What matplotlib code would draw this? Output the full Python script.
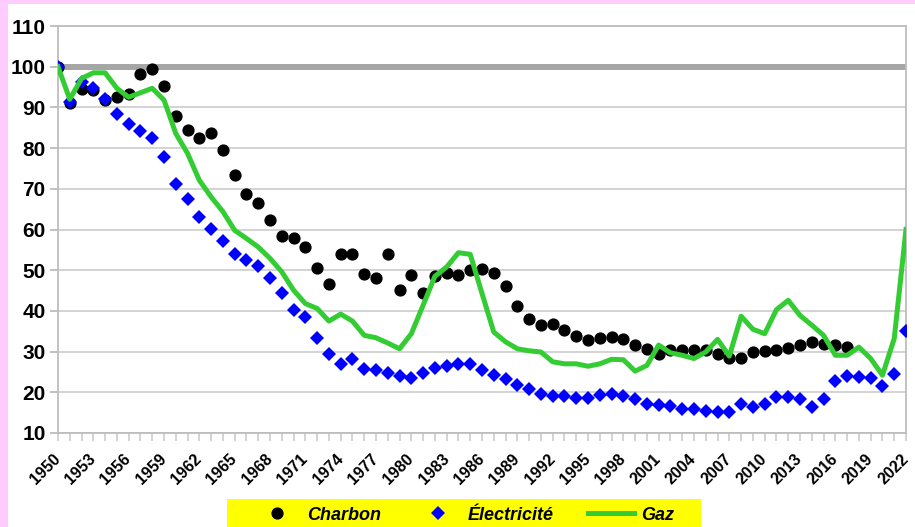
import matplotlib.pyplot as plt
from matplotlib.patches import Rectangle
from matplotlib.lines import Line2D

plt.rcParams['font.family'] = ['Liberation Sans', 'DejaVu Sans']

years = list(range(1950, 2023))

charbon = [100, 91.2, 94.5, 94.2, 91.8, 92.6, 93.2, 98.2, 99.4, 95.2,
           88.0, 84.4, 82.5, 83.6, 79.5, 73.4, 68.6, 66.5, 62.4, 58.4,
           58.0, 55.6, 50.6, 46.7, 53.9, 53.9, 49.0, 48.0, 53.9, 45.1,
           48.8, 44.4, 48.5, 49.3, 48.7, 50.0, 50.4, 49.3, 46.0, 41.1,
           38.0, 36.5, 36.7, 35.4, 33.8, 32.8, 33.4, 33.7, 33.0, 31.7,
           30.7, 29.5, 30.3, 30.3, 30.5, 30.3, 29.3, 28.5, 28.5, 29.9,
           30.2, 30.3, 31.0, 31.7, 32.4, 31.8, 31.7, 31.1]

electricite = [100, 91.4, 96.3, 94.7, 92.0, 88.5, 85.9, 84.3, 82.6, 77.9,
               71.1, 67.4, 63.0, 60.2, 57.2, 54.0, 52.6, 51.1, 48.0, 44.4,
               40.3, 38.6, 33.3, 29.3, 27.0, 28.3, 25.8, 25.6, 24.8, 23.9,
               23.6, 24.8, 26.0, 26.5, 27.0, 26.9, 25.6, 24.2, 23.2, 21.7,
               20.7, 19.7, 19.1, 19.1, 18.7, 18.7, 19.3, 19.6, 19.1, 18.3,
               17.2, 16.8, 16.6, 15.8, 16.0, 15.4, 15.2, 15.2, 17.1, 16.4,
               17.2, 18.9, 18.9, 18.4, 16.4, 18.3, 22.8, 23.9, 23.8, 23.4,
               21.6, 24.6, 35.1]

gaz = [100, 92.0, 97.1, 98.5, 98.5, 94.7, 92.5, 93.6, 94.7, 91.8,
       83.6, 78.7, 72.1, 68.0, 64.4, 59.8, 57.8, 55.7, 52.9, 49.6,
       45.1, 41.8, 40.6, 37.5, 39.2, 37.5, 34.0, 33.4, 32.1, 30.7,
       34.4, 41.4, 48.5, 50.8, 54.3, 53.9, 44.3, 34.8, 32.4, 30.7,
       30.2, 29.9, 27.5, 27.0, 27.0, 26.4, 27.0, 28.1, 28.0, 25.2,
       26.6, 31.6, 29.7, 29.1, 28.3, 29.9, 33.0, 28.9, 38.7, 35.5,
       34.4, 40.3, 42.6, 38.9, 36.5, 34.0, 29.1, 29.1, 31.1, 28.3,
       24.2, 33.2, 60.0]

base = [100] * len(years)

fig = plt.figure(figsize=(9.15, 5.27), dpi=100, facecolor='#FFCCFF')
# white panel, leaving a pink strip on the left and top
fig.patches.append(Rectangle((8 / 915, 0), 1, 1 - 4 / 527,
                             transform=fig.transFigure, facecolor='white',
                             edgecolor='none', zorder=-2))

ax = fig.add_axes([58 / 915, 1 - 433 / 527, 848 / 915, 407 / 527])
ax.set_facecolor('white')

ax.plot(years, base, color='#A6A6A6', lw=4.3, solid_capstyle='butt', zorder=2)
ax.plot(years[:len(charbon)], charbon, 'o', color='black', ms=7.8, zorder=3)
ax.plot(years, electricite, 'D', color='#0000FF', ms=7.2, mew=0, zorder=4)
ax.plot(years, gaz, '-', color='#33CC33', lw=3.6, solid_joinstyle='round', zorder=5)

ax.set_xlim(1950, 2022)
ax.set_ylim(10, 110)
ax.set_yticks(range(10, 111, 10))
ax.set_xticks(years, minor=True)
ax.set_xticks(years[::3])
ax.set_xticklabels([str(y) for y in years[::3]], rotation=45, ha='right',
                   va='center', rotation_mode='anchor', fontweight='bold', fontsize=11.5)
for lab in ax.get_yticklabels():
    lab.set_fontweight('bold')
ax.tick_params(axis='y', labelsize=15, length=6, width=1.1, color='#B0B0B0', pad=3)
ax.tick_params(axis='x', which='both', length=6, width=1.1, color='#C8C8C8', pad=11)

ax.grid(axis='y', color='#C8C8C8', lw=1.1, zorder=1)
ax.set_axisbelow(True)
for side in ['left', 'right', 'top', 'bottom']:
    ax.spines[side].set_color('#BDBDBD')
    ax.spines[side].set_linewidth(1.3)

# legend on a yellow band at the bottom
fig.patches.append(Rectangle((227 / 915, 0), 474 / 915, 28 / 527,
                             transform=fig.transFigure, facecolor='#FFFF00',
                             edgecolor='none', zorder=-1))
handles = [Line2D([], [], ls='none', marker='o', color='black', ms=7.8),
           Line2D([], [], ls='none', marker='D', color='#0000FF', ms=7.2, mew=0),
           Line2D([], [], color='#33CC33', lw=3.6)]
leg = fig.legend(handles, ['Charbon', 'Électricité', 'Gaz'], ncol=3,
                 loc='center', bbox_to_anchor=(464 / 915, 1 - 515 / 527),
                 frameon=False, handlelength=2.55, handletextpad=0.4,
                 columnspacing=1.85, prop={'weight': 'bold', 'style': 'italic', 'size': 13})

fig.savefig('out.png', dpi=100, facecolor=fig.get_facecolor())
